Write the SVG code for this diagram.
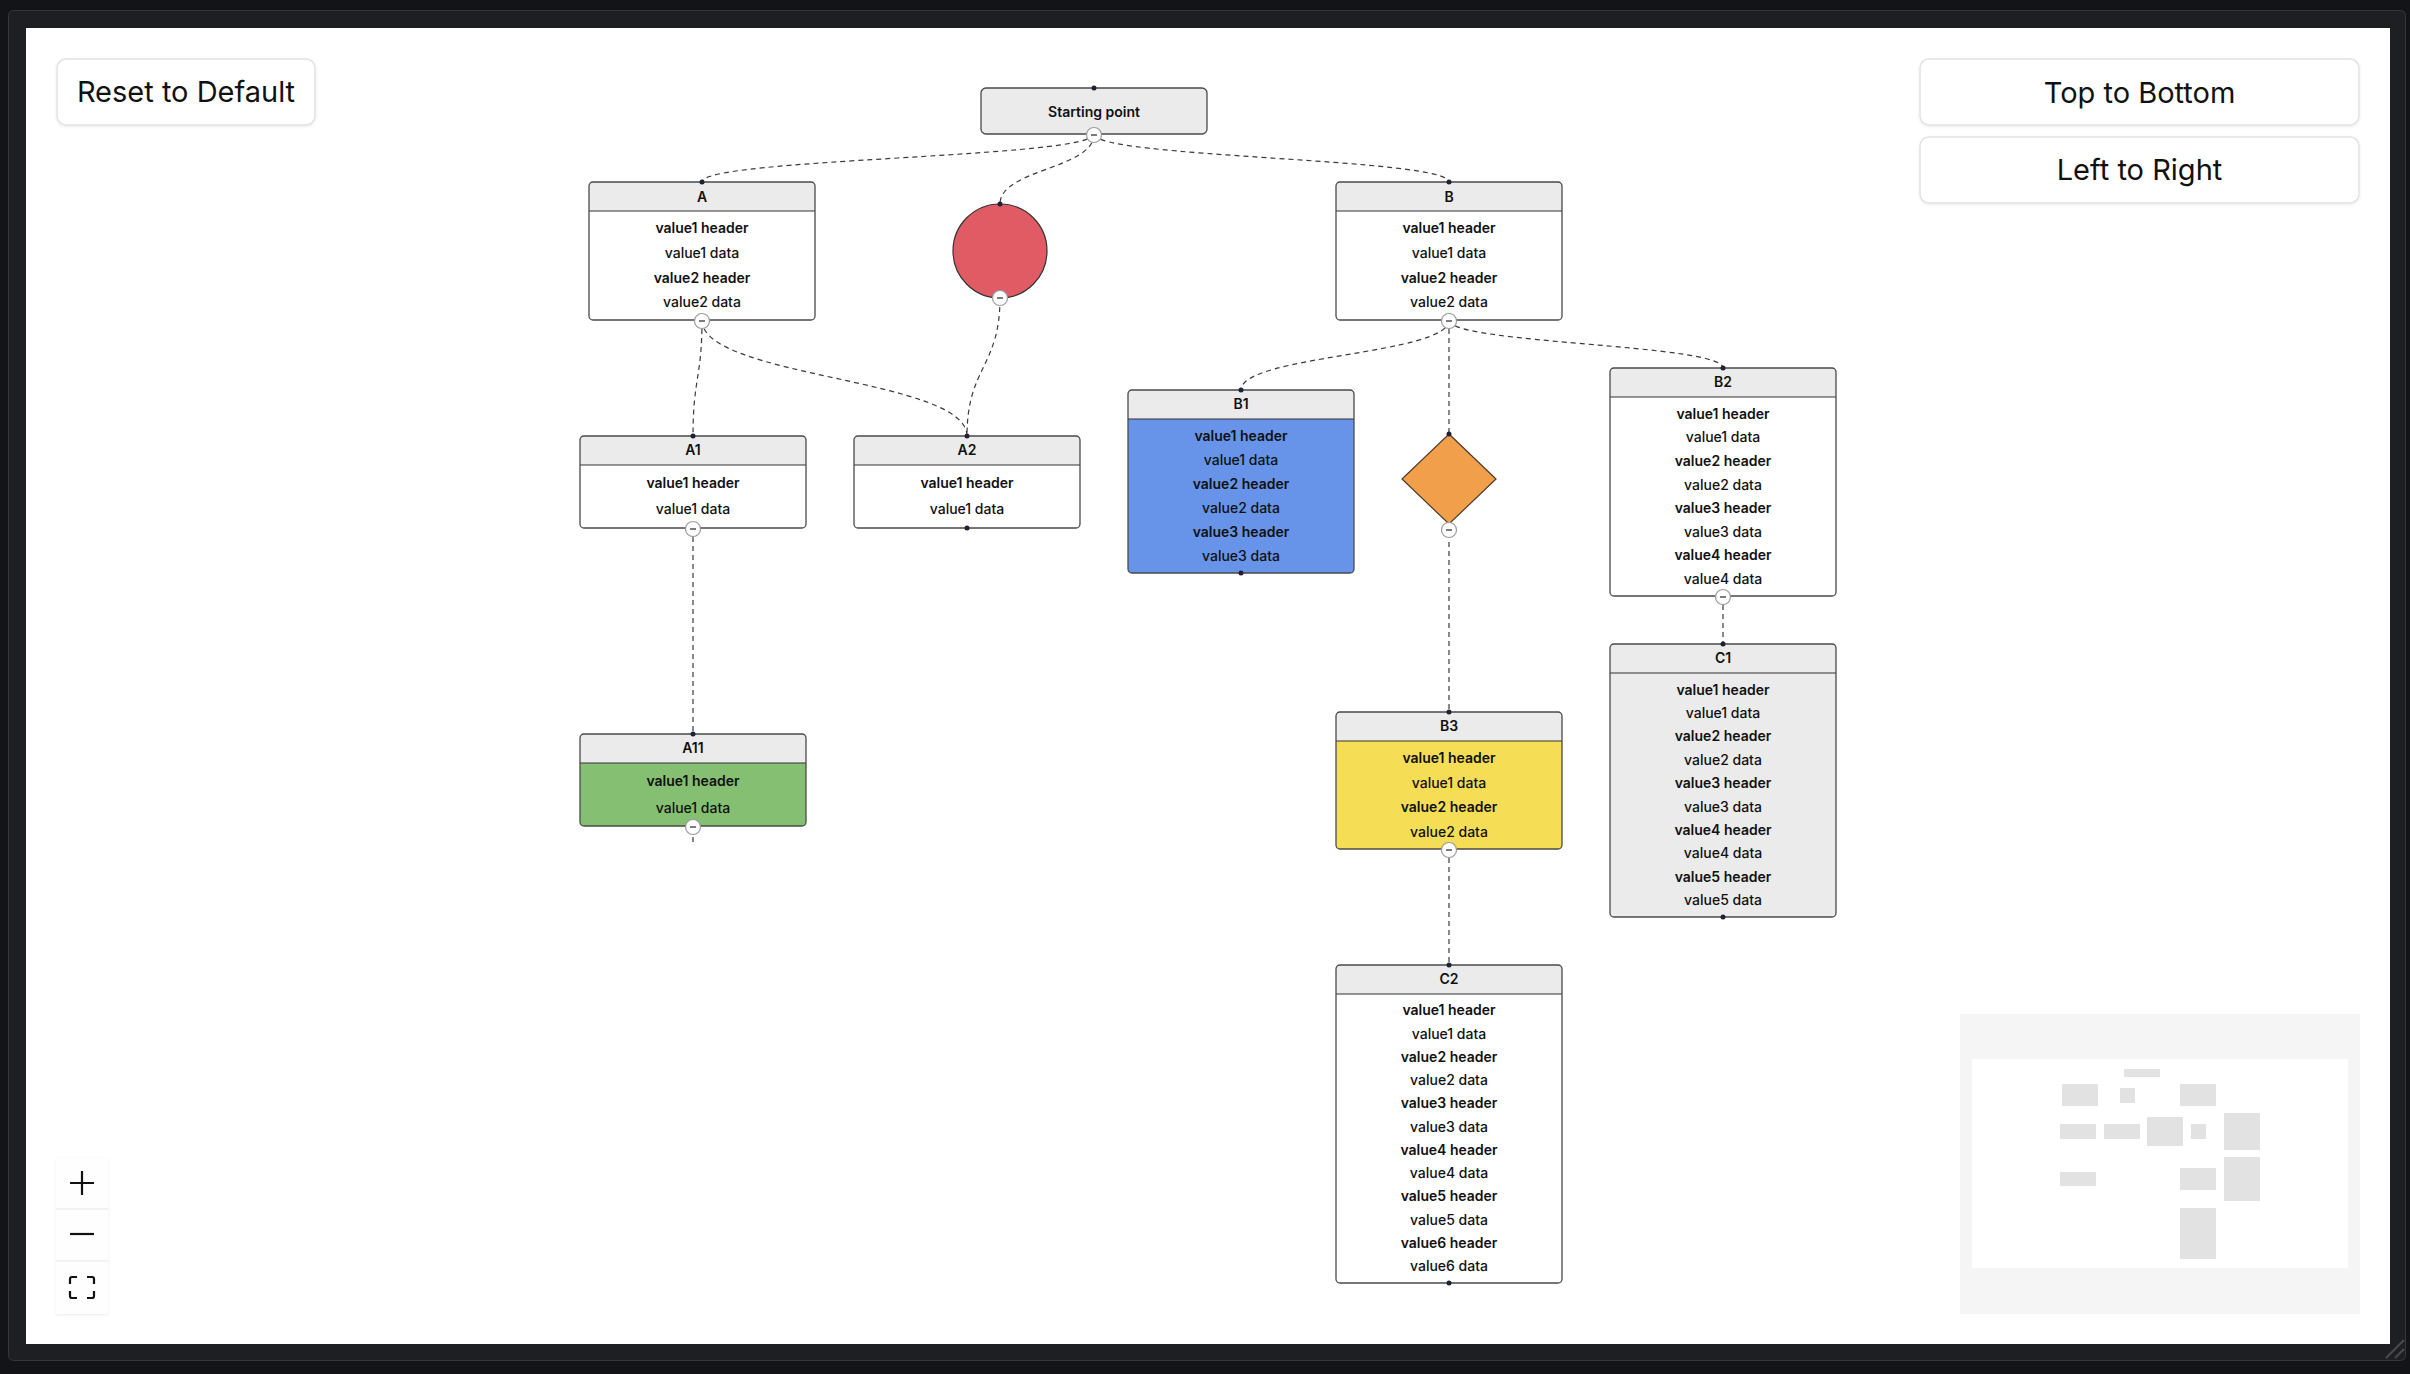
<svg xmlns="http://www.w3.org/2000/svg" width="2410" height="1374" viewBox="0 0 2410 1374">
<style>
.hdr{fill:#ebebeb}
.box{fill:none;stroke:#4a4a4a;stroke-width:1.3}
.sep{stroke:#333;stroke-width:1.2}
.t{font-family:Inter,"Liberation Sans",sans-serif;font-size:14px;fill:#111;text-anchor:middle}
.b{font-weight:600}
.r{font-weight:500}
.edge{fill:none;stroke:#3a3a3a;stroke-width:1.2;stroke-dasharray:5 4}
.dot{fill:#1e2233}
.cb circle{fill:#fff;stroke:#9a9a9a;stroke-width:1.2}
.cb line{stroke:#333;stroke-width:1.3}
.btn{fill:#fff;stroke:#e2e2e2;stroke-width:1.5}
.bt{font-family:Inter,"Liberation Sans",sans-serif;font-size:29px;fill:#111;text-anchor:middle}
.mm{fill:#e2e2e2}
.ctl{stroke:#111;stroke-width:2.2;fill:none}
</style>
<defs>
<filter id="sh" x="-20%" y="-20%" width="140%" height="140%"><feDropShadow dx="0" dy="1" stdDeviation="1.5" flood-color="#000" flood-opacity="0.08"/></filter>
</defs>
<rect x="0" y="0" width="2410" height="1374" fill="#131418"/>
<rect x="8.5" y="10.5" width="2397" height="1350" rx="5" fill="#1e1f23" stroke="#36373c" stroke-width="1"/>
<rect x="26" y="28" width="2364" height="1316" fill="#ffffff"/>
<line x1="2386" y1="1358" x2="2404" y2="1340" stroke="#4a4b50" stroke-width="2"/>
<line x1="2395" y1="1358" x2="2404" y2="1349" stroke="#4a4b50" stroke-width="2"/>

<g id="controls">
<rect class="btn" x="57" y="59" width="258" height="66" rx="9" filter="url(#sh)"/>
<text class="bt" x="186" y="102">Reset to Default</text>
<rect class="btn" x="1920" y="59" width="439" height="66" rx="9" filter="url(#sh)"/>
<text class="bt" x="2139.5" y="102.5">Top to Bottom</text>
<rect class="btn" x="1920" y="137" width="439" height="66" rx="9" filter="url(#sh)"/>
<text class="bt" x="2139.5" y="180">Left to Right</text>
</g>

<g id="zoom-controls">
<rect x="56" y="1158" width="52" height="156" fill="#fefefe" filter="url(#sh)"/>
<line x1="56" y1="1209" x2="108" y2="1209" stroke="#eeeeee" stroke-width="1.5"/>
<line x1="56" y1="1261" x2="108" y2="1261" stroke="#eeeeee" stroke-width="1.5"/>
<path class="ctl" d="M70,1183 H94 M82,1171 V1195"/>
<path class="ctl" d="M70,1234 H94" stroke-width="2.6"/>
<path class="ctl" d="M70,1284 V1279 Q70,1277 72,1277 H77 M87,1277 H92 Q94,1277 94,1279 V1284 M94,1291 V1296 Q94,1298 92,1298 H87 M77,1298 H72 Q70,1298 70,1296 V1291"/>
</g>

<g id="minimap">
<rect x="1960" y="1014" width="400" height="300" fill="#f5f5f5"/>
<rect x="1972" y="1059" width="376" height="209" fill="#ffffff"/>
<rect class="mm" x="2124" y="1069" width="36" height="8"/>
<rect class="mm" x="2062" y="1084" width="36" height="22"/>
<rect class="mm" x="2120" y="1088" width="15" height="15"/>
<rect class="mm" x="2180" y="1084" width="36" height="22"/>
<rect class="mm" x="2060" y="1124" width="36" height="15"/>
<rect class="mm" x="2104" y="1124" width="36" height="15"/>
<rect class="mm" x="2147" y="1117" width="36" height="29"/>
<rect class="mm" x="2191" y="1124" width="15" height="15"/>
<rect class="mm" x="2224" y="1113" width="36" height="37"/>
<rect class="mm" x="2060" y="1172" width="36" height="14"/>
<rect class="mm" x="2180" y="1168" width="36" height="22"/>
<rect class="mm" x="2224" y="1157" width="36" height="44"/>
<rect class="mm" x="2180" y="1208" width="36" height="51"/>
</g>

<g id="edges">
<path class="edge" d="M1094,134 C1094,158 702,158 702,182"/>
<path class="edge" d="M1094,134 C1094,169 1000,169 1000,204"/>
<path class="edge" d="M1094,134 C1094,158 1449,158 1449,182"/>
<path class="edge" d="M702,320 C702,378 693,378 693,436"/>
<path class="edge" d="M702,320 C702,378 967,378 967,436"/>
<path class="edge" d="M1000,298 C1000,367 967,367 967,436"/>
<path class="edge" d="M693,528 V734"/>
<path class="edge" d="M693,828 V842"/>
<path class="edge" d="M1449,320 C1449,355 1241,355 1241,390"/>
<path class="edge" d="M1449,320 V434"/>
<path class="edge" d="M1449,320 C1449,344 1723,344 1723,368"/>
<path class="edge" d="M1449,524 V712"/>
<path class="edge" d="M1723,596 V644"/>
<path class="edge" d="M1449,849 V965"/>
</g>

<g id="node-start">
<rect x="981" y="88" width="226" height="46" rx="5" fill="#ebebeb" stroke="#4a4a4a" stroke-width="1.3"/>
<text class="t b" x="1094" y="117">Starting point</text>
<circle class="dot" cx="1094" cy="88" r="2.5"/>
<g class="cb"><circle cx="1094" cy="135" r="7.5"/><line x1="1091" y1="135" x2="1097" y2="135"/></g>
</g>

<g id="node-A">
<rect x="589" y="182" width="226" height="138" rx="4" fill="#fff"/>
<path class="hdr" d="M589,211 V186 Q589,182 593,182 H811 Q815,182 815,186 V211 Z"/>
<line class="sep" x1="589" y1="211" x2="815" y2="211"/>
<rect class="box" x="589" y="182" width="226" height="138" rx="4"/>
<text class="t b" x="702" y="201.5">A</text>
<text class="t b" x="702" y="233.2">value1 header</text>
<text class="t r" x="702" y="257.9">value1 data</text>
<text class="t b" x="702" y="282.7">value2 header</text>
<text class="t r" x="702" y="307.4">value2 data</text>
<circle class="dot" cx="702" cy="182" r="2.5"/>
<g class="cb"><circle cx="702" cy="321" r="7.5"/><line x1="699" y1="321" x2="705" y2="321"/></g>
</g>

<g id="node-circle">
<circle cx="1000" cy="251" r="47" fill="#e15b64" stroke="#333" stroke-width="1.2"/>
<circle class="dot" cx="1000" cy="204" r="2.5"/>
<g class="cb"><circle cx="1000" cy="298" r="7.5"/><line x1="997" y1="298" x2="1003" y2="298"/></g>
</g>

<g id="node-B">
<rect x="1336" y="182" width="226" height="138" rx="4" fill="#fff"/>
<path class="hdr" d="M1336,211 V186 Q1336,182 1340,182 H1558 Q1562,182 1562,186 V211 Z"/>
<line class="sep" x1="1336" y1="211" x2="1562" y2="211"/>
<rect class="box" x="1336" y="182" width="226" height="138" rx="4"/>
<text class="t b" x="1449" y="201.5">B</text>
<text class="t b" x="1449" y="233.2">value1 header</text>
<text class="t r" x="1449" y="257.9">value1 data</text>
<text class="t b" x="1449" y="282.7">value2 header</text>
<text class="t r" x="1449" y="307.4">value2 data</text>
<circle class="dot" cx="1449" cy="182" r="2.5"/>
<g class="cb"><circle cx="1449" cy="321" r="7.5"/><line x1="1446" y1="321" x2="1452" y2="321"/></g>
</g>

<g id="node-A1">
<rect x="580" y="436" width="226" height="92" rx="4" fill="#fff"/>
<path class="hdr" d="M580,465 V440 Q580,436 584,436 H802 Q806,436 806,440 V465 Z"/>
<line class="sep" x1="580" y1="465" x2="806" y2="465"/>
<rect class="box" x="580" y="436" width="226" height="92" rx="4"/>
<text class="t b" x="693" y="455.4">A1</text>
<text class="t b" x="693" y="487.8">value1 header</text>
<text class="t r" x="693" y="514.3">value1 data</text>
<circle class="dot" cx="693" cy="436" r="2.5"/>
<g class="cb"><circle cx="693" cy="529" r="7.5"/><line x1="690" y1="529" x2="696" y2="529"/></g>
</g>

<g id="node-A2">
<rect x="854" y="436" width="226" height="92" rx="4" fill="#fff"/>
<path class="hdr" d="M854,465 V440 Q854,436 858,436 H1076 Q1080,436 1080,440 V465 Z"/>
<line class="sep" x1="854" y1="465" x2="1080" y2="465"/>
<rect class="box" x="854" y="436" width="226" height="92" rx="4"/>
<text class="t b" x="967" y="455.4">A2</text>
<text class="t b" x="967" y="487.8">value1 header</text>
<text class="t r" x="967" y="514.3">value1 data</text>
<circle class="dot" cx="967" cy="436" r="2.5"/>
<circle class="dot" cx="967" cy="528" r="2.5"/>
</g>

<g id="node-B1">
<rect x="1128" y="390" width="226" height="183" rx="4" fill="#6794e9"/>
<path class="hdr" d="M1128,419 V394 Q1128,390 1132,390 H1350 Q1354,390 1354,394 V419 Z"/>
<line class="sep" x1="1128" y1="419" x2="1354" y2="419"/>
<rect class="box" x="1128" y="390" width="226" height="183" rx="4"/>
<text class="t b" x="1241" y="409.4">B1</text>
<text class="t b" x="1241" y="440.8">value1 header</text>
<text class="t r" x="1241" y="464.8">value1 data</text>
<text class="t b" x="1241" y="488.8">value2 header</text>
<text class="t r" x="1241" y="512.8">value2 data</text>
<text class="t b" x="1241" y="536.8">value3 header</text>
<text class="t r" x="1241" y="560.8">value3 data</text>
<circle class="dot" cx="1241" cy="390" r="2.5"/>
<circle class="dot" cx="1241" cy="573" r="2.5"/>
</g>

<g id="node-diamond">
<polygon points="1449,434 1496,479 1449,524 1402,479" fill="#f29f4c" stroke="#4a3a2a" stroke-width="1.2"/>
<circle class="dot" cx="1449" cy="434" r="2.5"/>
<g class="cb"><circle cx="1449" cy="530" r="7.5"/><line x1="1446" y1="530" x2="1452" y2="530"/></g>
</g>

<g id="node-B2">
<rect x="1610" y="368" width="226" height="228" rx="4" fill="#fff"/>
<path class="hdr" d="M1610,397 V372 Q1610,368 1614,368 H1832 Q1836,368 1836,372 V397 Z"/>
<line class="sep" x1="1610" y1="397" x2="1836" y2="397"/>
<rect class="box" x="1610" y="368" width="226" height="228" rx="4"/>
<text class="t b" x="1723" y="387.4">B2</text>
<text class="t b" x="1723" y="418.6">value1 header</text>
<text class="t r" x="1723" y="442.2">value1 data</text>
<text class="t b" x="1723" y="465.8">value2 header</text>
<text class="t r" x="1723" y="489.5">value2 data</text>
<text class="t b" x="1723" y="513.1">value3 header</text>
<text class="t r" x="1723" y="536.7">value3 data</text>
<text class="t b" x="1723" y="560.4">value4 header</text>
<text class="t r" x="1723" y="584">value4 data</text>
<circle class="dot" cx="1723" cy="368" r="2.5"/>
<g class="cb"><circle cx="1723" cy="597" r="7.5"/><line x1="1720" y1="597" x2="1726" y2="597"/></g>
</g>

<g id="node-A11">
<rect x="580" y="734" width="226" height="92" rx="4" fill="#85bf72"/>
<path class="hdr" d="M580,763 V738 Q580,734 584,734 H802 Q806,734 806,738 V763 Z"/>
<line class="sep" x1="580" y1="763" x2="806" y2="763"/>
<rect class="box" x="580" y="734" width="226" height="92" rx="4"/>
<text class="t b" x="693" y="753.4">A11</text>
<text class="t b" x="693" y="786">value1 header</text>
<text class="t r" x="693" y="812.5">value1 data</text>
<circle class="dot" cx="693" cy="734" r="2.5"/>
<g class="cb"><circle cx="693" cy="827" r="7.5"/><line x1="690" y1="827" x2="696" y2="827"/></g>
</g>

<g id="node-B3">
<rect x="1336" y="712" width="226" height="137" rx="4" fill="#f5de56"/>
<path class="hdr" d="M1336,741 V716 Q1336,712 1340,712 H1558 Q1562,712 1562,716 V741 Z"/>
<line class="sep" x1="1336" y1="741" x2="1562" y2="741"/>
<rect class="box" x="1336" y="712" width="226" height="137" rx="4"/>
<text class="t b" x="1449" y="731.4">B3</text>
<text class="t b" x="1449" y="763">value1 header</text>
<text class="t r" x="1449" y="787.5">value1 data</text>
<text class="t b" x="1449" y="812">value2 header</text>
<text class="t r" x="1449" y="836.5">value2 data</text>
<circle class="dot" cx="1449" cy="712" r="2.5"/>
<g class="cb"><circle cx="1449" cy="850" r="7.5"/><line x1="1446" y1="850" x2="1452" y2="850"/></g>
</g>

<g id="node-C1">
<rect x="1610" y="644" width="226" height="273" rx="4" fill="#ebebeb"/>
<line class="sep" x1="1610" y1="673" x2="1836" y2="673"/>
<rect class="box" x="1610" y="644" width="226" height="273" rx="4"/>
<text class="t b" x="1723" y="663.4">C1</text>
<text class="t b" x="1723" y="694.5">value1 header</text>
<text class="t r" x="1723" y="717.9">value1 data</text>
<text class="t b" x="1723" y="741.3">value2 header</text>
<text class="t r" x="1723" y="764.7">value2 data</text>
<text class="t b" x="1723" y="788.1">value3 header</text>
<text class="t r" x="1723" y="811.5">value3 data</text>
<text class="t b" x="1723" y="834.9">value4 header</text>
<text class="t r" x="1723" y="858.3">value4 data</text>
<text class="t b" x="1723" y="881.7">value5 header</text>
<text class="t r" x="1723" y="905.1">value5 data</text>
<circle class="dot" cx="1723" cy="644" r="2.5"/>
<circle class="dot" cx="1723" cy="917" r="2.5"/>
</g>

<g id="node-C2">
<rect x="1336" y="965" width="226" height="318" rx="4" fill="#fff"/>
<path class="hdr" d="M1336,994 V969 Q1336,965 1340,965 H1558 Q1562,965 1562,969 V994 Z"/>
<line class="sep" x1="1336" y1="994" x2="1562" y2="994"/>
<rect class="box" x="1336" y="965" width="226" height="318" rx="4"/>
<text class="t b" x="1449" y="984.4">C2</text>
<text class="t b" x="1449" y="1015.4">value1 header</text>
<text class="t r" x="1449" y="1038.7">value1 data</text>
<text class="t b" x="1449" y="1061.9">value2 header</text>
<text class="t r" x="1449" y="1085.2">value2 data</text>
<text class="t b" x="1449" y="1108.4">value3 header</text>
<text class="t r" x="1449" y="1131.7">value3 data</text>
<text class="t b" x="1449" y="1154.9">value4 header</text>
<text class="t r" x="1449" y="1178.2">value4 data</text>
<text class="t b" x="1449" y="1201.4">value5 header</text>
<text class="t r" x="1449" y="1224.7">value5 data</text>
<text class="t b" x="1449" y="1247.9">value6 header</text>
<text class="t r" x="1449" y="1271.2">value6 data</text>
<circle class="dot" cx="1449" cy="965" r="2.5"/>
<circle class="dot" cx="1449" cy="1283" r="2.5"/>
</g>
</svg>
